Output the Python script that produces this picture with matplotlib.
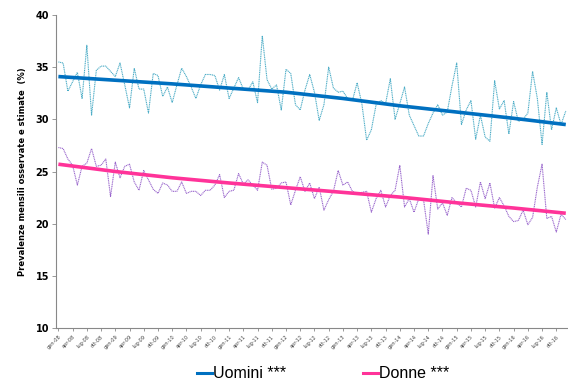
import matplotlib
matplotlib.use('Agg')
import matplotlib.pyplot as plt
import numpy as np
from matplotlib.lines import Line2D

# monthly prevalence, gen-08 .. dic-16
uomini = [35.5, 35.4, 32.7, 33.6, 34.5, 32.0, 37.1, 30.4, 34.7, 35.1, 35.1, 34.6,
          34.1, 35.4, 33.3, 31.1, 34.9, 32.9, 32.9, 30.6, 34.4, 34.2, 32.2, 33.1,
          31.6, 33.3, 34.9, 34.1, 33.1, 32.0, 33.3, 34.3, 34.3, 34.2, 32.8, 34.3,
          32.0, 33.0, 34.0, 32.9, 32.8, 33.6, 31.6, 38.0, 33.8, 32.9, 33.3, 30.9,
          34.8, 34.4, 31.4, 30.9, 32.8, 34.3, 32.6, 29.9, 31.4, 35.0, 33.0, 32.6,
          32.7, 32.0, 31.8, 33.5, 31.5, 28.0, 29.0, 31.4, 31.8, 31.5, 33.9, 30.0,
          31.5, 33.1, 30.4, 29.4, 28.4, 28.4, 29.6, 30.6, 31.4, 30.4, 30.7, 33.2,
          35.4, 29.5, 30.9, 31.8, 28.1, 30.4, 28.3, 27.9, 33.7, 31.0, 31.8, 28.6,
          31.7, 29.8, 30.0, 30.6, 34.6, 32.0, 27.6, 32.6, 29.0, 31.1, 29.5, 30.8]
donne = [27.3, 27.2, 26.2, 25.6, 23.7, 25.5, 25.8, 27.2, 25.5, 25.6, 26.2, 22.6,
         25.9, 24.4, 25.5, 25.7, 24.0, 23.2, 25.1, 24.2, 23.3, 22.9, 23.9, 23.7,
         23.1, 23.1, 24.0, 22.9, 23.1, 23.1, 22.7, 23.2, 23.2, 23.7, 24.7, 22.5,
         23.1, 23.2, 24.8, 23.8, 24.2, 23.7, 23.2, 25.9, 25.6, 23.3, 23.4, 23.9,
         24.0, 21.8, 23.2, 24.5, 23.1, 23.9, 22.4, 23.5, 21.3, 22.3, 23.1, 25.1,
         23.7, 24.0, 23.1, 22.9, 23.0, 23.1, 21.1, 22.4, 23.2, 21.6, 22.7, 23.2,
         25.6, 21.6, 22.4, 21.1, 22.4, 22.3, 19.0, 24.6, 21.4, 22.0, 20.8, 22.5,
         22.0, 21.6, 23.4, 23.2, 21.6, 24.0, 22.4, 23.9, 21.5, 22.5, 21.7, 20.7,
         20.2, 20.3, 21.3, 19.9, 20.6, 23.5, 25.7, 20.5, 20.7, 19.2, 20.9, 20.4]

# estimated trends, read at yearly points (month index)
trend_mesi = [0, 12, 24, 36, 48, 60, 72, 84, 96, 107]
trend_u = [34.1, 33.75, 33.4, 33.0, 32.6, 32.0, 31.3, 30.7, 30.1, 29.5]
trend_d = [25.7, 25.0, 24.4, 23.9, 23.45, 23.0, 22.55, 22.0, 21.5, 21.0]

mesi = ['gen', 'apr', 'lug', 'ott']
anni = ['08', '09', '10', '11', '12', '13', '14', '15', '16']
tick_labels = [m + '-' + a for a in anni for m in mesi]

x = np.arange(len(uomini))

fig = plt.figure(figsize=(5.68, 3.83), dpi=100)
ax = fig.add_axes([0.0986, 0.1436, 0.9, 0.8172])

ax.plot(x, uomini, color='#4BACC6', lw=0.8, ls=(0, (1, 0.6)))
ax.plot(x, donne, color='#9966CC', lw=0.8, ls=(0, (1, 0.6)))
ax.plot(trend_mesi, trend_u, color='#0070C0', lw=2.6, solid_capstyle='butt')
ax.plot(trend_mesi, trend_d, color='#FF3399', lw=2.6, solid_capstyle='butt')

ax.set_xlim(-0.5, 107.3)
ax.set_ylim(10, 40)
ax.set_yticks([10, 15, 20, 25, 30, 35, 40])
for lab in ax.get_yticklabels():
    lab.set_fontweight('bold')
    lab.set_fontsize(7)
ax.set_xticks(x[::3])
ax.set_xticklabels(tick_labels, rotation=45, ha='right', va='top',
                   fontsize=3.6, color='#404040', rotation_mode='anchor')
ax.tick_params(axis='y', length=3, width=0.6, color='#888888', pad=2)
ax.tick_params(axis='x', length=2.5, width=0.6, color='#888888', pad=2)
for s in ['top', 'right']:
    ax.spines[s].set_visible(False)
for s in ['left', 'bottom']:
    ax.spines[s].set_color('#888888')
    ax.spines[s].set_linewidth(0.8)

ax.set_ylabel('Prevalenze mensili osservate e stimate  (%)', fontsize=6,
              fontweight='bold', labelpad=6)

# legend below the plot
legend_font = {'family': ['Liberation Sans Narrow', 'Liberation Sans'], 'size': 11.5}
fig.add_artist(Line2D([197/568, 212/568], [0.026, 0.026], color='#0070C0', lw=2.2,
                      transform=fig.transFigure))
fig.text(213/568, 0.026, 'Uomini ***', va='center', ha='left', **legend_font)
fig.add_artist(Line2D([363/568, 378/568], [0.026, 0.026], color='#FF3399', lw=2.2,
                      transform=fig.transFigure))
fig.text(379/568, 0.026, 'Donne ***', va='center', ha='left', **legend_font)

fig.savefig('out.png', dpi=100)
